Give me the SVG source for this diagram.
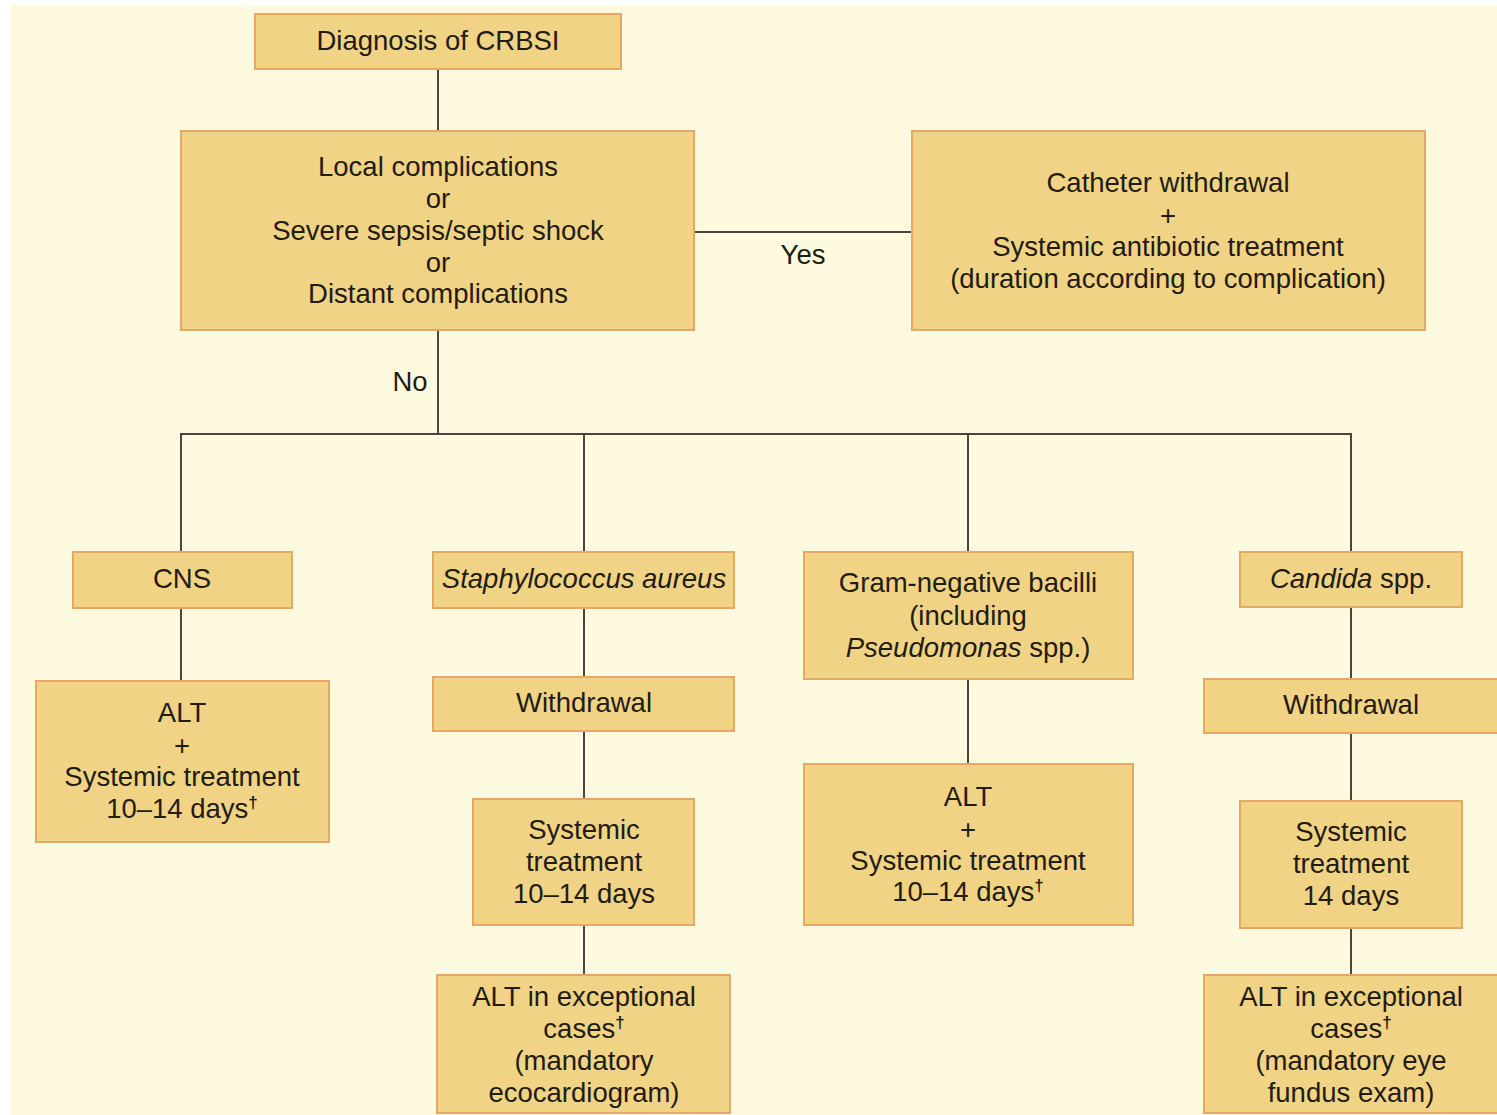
<svg xmlns="http://www.w3.org/2000/svg" width="1497" height="1115" viewBox="0 0 1497 1115">
<style>
.bx{fill:#f1d386;stroke:#e6a866;stroke-width:2}
.t{font-family:"Liberation Sans",Arial,sans-serif;font-size:27.5px;fill:#221c12;text-anchor:middle}
.i{font-style:italic}
.sup{font-size:17px;font-weight:bold}
.c{stroke:#4a453d;stroke-width:2;fill:none}
</style>
<rect x="0" y="0" width="1497" height="1115" fill="#ffffff"/>
<rect x="10" y="5" width="1487" height="1110" fill="#fefadf"/>
<g id="connectors">
<line class="c" x1="438" y1="69" x2="438" y2="131"/>
<line class="c" x1="694" y1="232" x2="912" y2="232"/>
<line class="c" x1="438" y1="330" x2="438" y2="434"/>
<line class="c" x1="181" y1="434" x2="1351" y2="434"/>
<line class="c" x1="181" y1="433" x2="181" y2="552"/>
<line class="c" x1="584" y1="433" x2="584" y2="552"/>
<line class="c" x1="968" y1="433" x2="968" y2="552"/>
<line class="c" x1="1351" y1="433" x2="1351" y2="552"/>
<line class="c" x1="181" y1="608" x2="181" y2="681"/>
<line class="c" x1="584" y1="608" x2="584" y2="677"/>
<line class="c" x1="584" y1="731" x2="584" y2="799"/>
<line class="c" x1="584" y1="925" x2="584" y2="975"/>
<line class="c" x1="968" y1="679" x2="968" y2="764"/>
<line class="c" x1="1351" y1="607" x2="1351" y2="679"/>
<line class="c" x1="1351" y1="733" x2="1351" y2="801"/>
<line class="c" x1="1351" y1="928" x2="1351" y2="975"/>
<text class="t" x="803" y="264">Yes</text>
<text class="t" x="410" y="391">No</text>
</g>
<g id="n-diagnosis">
<rect class="bx" x="255" y="14" width="366" height="55"/>
<text class="t" x="438" y="50">Diagnosis of CRBSI</text>
</g>
<g id="n-complications">
<rect class="bx" x="181" y="131" width="513" height="199"/>
<text class="t" x="438" y="176">Local complications</text>
<text class="t" x="438" y="208">or</text>
<text class="t" x="438" y="240">Severe sepsis/septic shock</text>
<text class="t" x="438" y="272">or</text>
<text class="t" x="438" y="303">Distant complications</text>
</g>
<g id="n-withdrawal-systemic">
<rect class="bx" x="912" y="131" width="513" height="199"/>
<text class="t" x="1168" y="192">Catheter withdrawal</text>
<text class="t" x="1168" y="225">+</text>
<text class="t" x="1168" y="256">Systemic antibiotic treatment</text>
<text class="t" x="1168" y="288">(duration according to complication)</text>
</g>
<g id="n-cns">
<rect class="bx" x="73" y="552" width="219" height="56"/>
<text class="t" x="182" y="588">CNS</text>
</g>
<g id="n-cns-alt">
<rect class="bx" x="36" y="681" width="293" height="161"/>
<text class="t" x="182" y="722">ALT</text>
<text class="t" x="182" y="755">+</text>
<text class="t" x="182" y="786">Systemic treatment</text>
<text class="t" x="182" y="818">10–14 days<tspan class="sup" dy="-10">†</tspan></text>
</g>
<g id="n-staph">
<rect class="bx" x="433" y="552" width="301" height="56"/>
<text class="t i" x="584" y="588">Staphylococcus aureus</text>
</g>
<g id="n-staph-withdrawal">
<rect class="bx" x="433" y="677" width="301" height="54"/>
<text class="t" x="584" y="712">Withdrawal</text>
</g>
<g id="n-staph-systemic">
<rect class="bx" x="473" y="799" width="221" height="126"/>
<text class="t" x="584" y="839">Systemic</text>
<text class="t" x="584" y="871">treatment</text>
<text class="t" x="584" y="903">10–14 days</text>
</g>
<g id="n-staph-alt">
<rect class="bx" x="437" y="975" width="293" height="138"/>
<text class="t" x="584" y="1006">ALT in exceptional</text>
<text class="t" x="584" y="1038">cases<tspan class="sup" dy="-10">†</tspan></text>
<text class="t" x="584" y="1070">(mandatory</text>
<text class="t" x="584" y="1102">ecocardiogram)</text>
</g>
<g id="n-gnb">
<rect class="bx" x="804" y="552" width="329" height="127"/>
<text class="t" x="968" y="592">Gram-negative bacilli</text>
<text class="t" x="968" y="625">(including</text>
<text class="t" x="968" y="657"><tspan class="i">Pseudomonas</tspan> spp.)</text>
</g>
<g id="n-gnb-alt">
<rect class="bx" x="804" y="764" width="329" height="161"/>
<text class="t" x="968" y="806">ALT</text>
<text class="t" x="968" y="839">+</text>
<text class="t" x="968" y="870">Systemic treatment</text>
<text class="t" x="968" y="901">10–14 days<tspan class="sup" dy="-10">†</tspan></text>
</g>
<g id="n-candida">
<rect class="bx" x="1240" y="552" width="222" height="55"/>
<text class="t" x="1351" y="588"><tspan class="i">Candida</tspan> spp.</text>
</g>
<g id="n-candida-withdrawal">
<rect class="bx" x="1204" y="679" width="300" height="54"/>
<text class="t" x="1351" y="714">Withdrawal</text>
</g>
<g id="n-candida-systemic">
<rect class="bx" x="1240" y="801" width="222" height="127"/>
<text class="t" x="1351" y="841">Systemic</text>
<text class="t" x="1351" y="873">treatment</text>
<text class="t" x="1351" y="905">14 days</text>
</g>
<g id="n-candida-alt">
<rect class="bx" x="1204" y="975" width="300" height="138"/>
<text class="t" x="1351" y="1006">ALT in exceptional</text>
<text class="t" x="1351" y="1038">cases<tspan class="sup" dy="-10">†</tspan></text>
<text class="t" x="1351" y="1070">(mandatory eye</text>
<text class="t" x="1351" y="1102">fundus exam)</text>
</g>
</svg>
